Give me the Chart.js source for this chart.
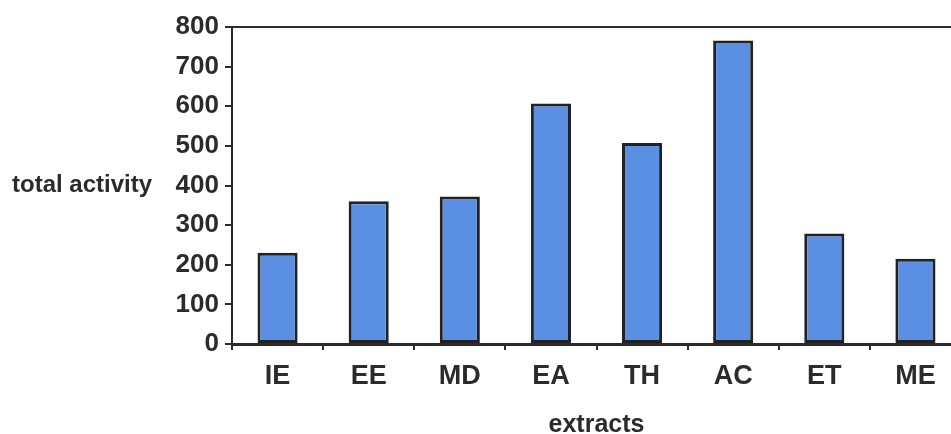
<!DOCTYPE html>
<html>
<head>
<meta charset="utf-8">
<script src="https://cdn.jsdelivr.net/npm/chart.js@4.4.1/dist/chart.umd.min.js"></script>
<style>
  html, body { margin: 0; padding: 0; background: #fff; overflow: hidden; width: 951px; height: 434px; }
  #wrap { position: relative; width: 975px; height: 434px; }
</style>
</head>
<body>
<div id="wrap"><canvas id="chart" width="975" height="434"></canvas></div>
<script>
// Total activity of each extract
const categories = ['IE', 'EE', 'MD', 'EA', 'TH', 'AC', 'ET', 'ME'];
const totalActivity = [230, 360, 372, 607, 507, 766, 279, 215];
const yTicks = [0, 100, 200, 300, 400, 500, 600, 700, 800];
const yTitle = 'total activity';
const xTitle = 'extracts';

const ink = '#2b2b2b';
const fontFamily = '"Liberation Sans", Arial, sans-serif';

// Horizontal y-axis caption and the top/right frame lines of the plot area
const framePlugin = {
  id: 'frame',
  afterDraw(chart) {
    const { ctx, chartArea } = chart;
    ctx.save();
    ctx.strokeStyle = ink;
    ctx.lineWidth = 2;
    ctx.beginPath();
    ctx.moveTo(chartArea.left, chartArea.top);
    ctx.lineTo(chartArea.right, chartArea.top);
    ctx.lineTo(chartArea.right, chartArea.bottom);
    ctx.stroke();
    ctx.fillStyle = ink;
    ctx.font = 'bold 24px ' + fontFamily;
    ctx.textAlign = 'left';
    ctx.textBaseline = 'middle';
    ctx.fillText(yTitle, 12, (chartArea.top + chartArea.bottom) / 2);
    ctx.restore();
  }
};

new Chart(document.getElementById('chart'), {
  type: 'bar',
  data: {
    labels: categories,
    datasets: [{
      data: totalActivity,
      backgroundColor: '#5b8fe3',
      borderColor: '#222',
      borderWidth: 3,
      borderSkipped: false,
      categoryPercentage: 1,
      barPercentage: 0.44
    }]
  },
  options: {
    responsive: false,
    animation: false,
    layout: { padding: { left: 0, right: 14, top: 27, bottom: 0 } },
    plugins: { legend: { display: false }, tooltip: { enabled: false } },
    scales: {
      x: {
        afterFit(s) { s.height = 90; },
        grid: { display: true, drawOnChartArea: false, drawTicks: true, tickLength: 6, color: ink, lineWidth: 2, offset: true },
        border: { display: true, color: ink, width: 3 },
        ticks: { color: ink, font: { family: fontFamily, size: 27, weight: 'bold' }, padding: 10 },
        title: { display: true, text: xTitle, color: ink, font: { family: fontFamily, size: 25, weight: 'bold' }, padding: { top: 0, bottom: -6 } }
      },
      y: {
        min: 0,
        max: 800,
        afterFit(s) { s.width = 232; },
        afterBuildTicks(s) { s.ticks = yTicks.map(v => ({ value: v })); },
        grid: { display: true, drawOnChartArea: false, drawTicks: true, tickLength: 7, color: ink, lineWidth: 2 },
        border: { display: true, color: ink, width: 2 },
        ticks: { color: ink, font: { family: fontFamily, size: 26, weight: 'bold' }, padding: 6 }
      }
    }
  },
  plugins: [framePlugin]
});
</script>
</body>
</html>
